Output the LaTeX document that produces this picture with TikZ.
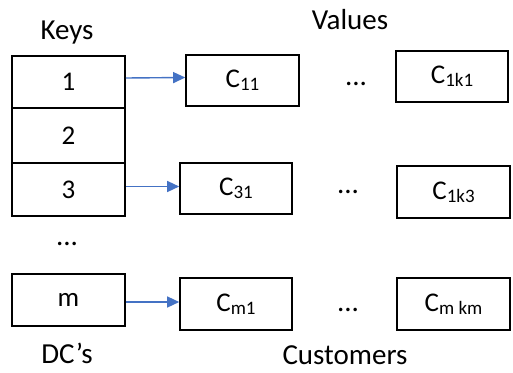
\documentclass[tikz,border=0pt]{standalone}
\usepackage{fontspec}
\setmainfont{Carlito}
\usetikzlibrary{arrows.meta}
\definecolor{arrowblue}{RGB}{68,114,196}
\tikzset{
  box/.style={draw=black, line width=1.6pt, rectangle, inner sep=0pt, minimum width=113pt, minimum height=52pt, font=\fontsize{27}{31}\selectfont},
  lbl/.style={inner sep=0pt, font=\fontsize{29}{33}\selectfont},
  link/.style={draw=arrowblue, line width=1.4pt, -{Triangle[length=12pt,width=11pt]}}
}
\newcommand{\sbs}[1]{\raisebox{-3pt}{\fontsize{19}{22}\selectfont #1}}
\begin{document}
\begin{tikzpicture}[x=1pt,y=-1pt]
\useasboundingbox (0,0) rectangle (513,372);
% keys column
\node[box] (k1) at (68.5,82) {1};
\node[box, minimum height=55pt] (k2) at (68.5,135.5) {2};
\node[box, minimum height=53pt] (k3) at (68.5,189.5) {3};
\node[box] (km) at (68.5,300) {m};
\node[lbl] (keys) at (67,33) {Keys};
\node[lbl] (kdots) at (67,244) {...};
\node[lbl] (dcs) at (67,353) {DC’s};
% values
\node[lbl] (values) at (350,20) {Values};
\node[lbl] (cust) at (345,355) {Customers};
\node[box, minimum height=51pt] (c11) at (242.5,80.5) {C\sbs{11}};
\node[lbl] (d1) at (356,84) {...};
\node[box, minimum width=112pt, minimum height=51pt] (c1k1) at (452,76.5) {C\sbs{1k1}};
\node[box, minimum width=112pt, minimum height=51pt] (c31) at (236,188.5) {C\sbs{31}};
\node[lbl] (d3) at (348,192) {...};
\node[box] (c1k3) at (453.5,192) {C\sbs{1k3}};
\node[box, minimum width=112pt] (cm1) at (236,304) {C\sbs{m1}};
\node[lbl] (dm) at (348,310) {...};
\node[box] (cmkm) at (453.5,304) {C\sbs{m km}};
% arrows
\draw[link] ([yshift=4pt]k1.east) -- ([yshift=3pt]c11.west);
\draw[link] ([yshift=3pt]k3.east) -- ([yshift=2pt]c31.west);
\draw[link] ([yshift=-2pt]km.east) -- ([yshift=2pt]cm1.west);
\end{tikzpicture}
\end{document}
